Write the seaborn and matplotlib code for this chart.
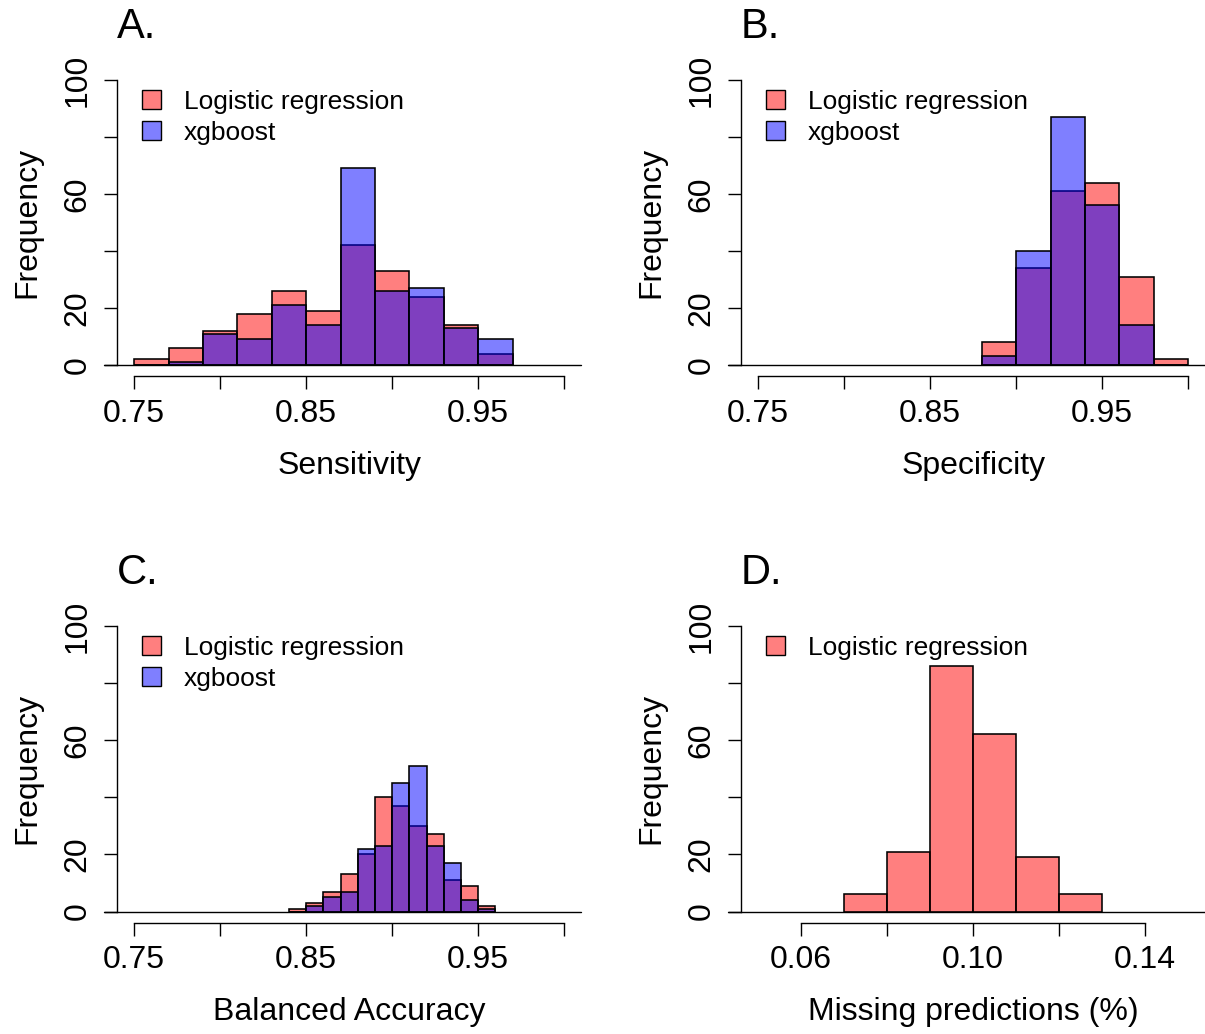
import matplotlib
matplotlib.use("Agg")
import matplotlib.pyplot as plt
import matplotlib.transforms as mtransforms
from matplotlib.patches import Patch
import seaborn as sns

# --- Data (bin edges and counts) ---
sens_edges = [0.75, 0.77, 0.79, 0.81, 0.83, 0.85, 0.87, 0.89, 0.91, 0.93, 0.95, 0.97]
sens_logit = [2, 6, 12, 18, 26, 19, 42, 33, 24, 14, 4]
sens_xgb = [0, 1, 11, 9, 21, 14, 69, 26, 27, 13, 9]

spec_edges = [0.88, 0.90, 0.92, 0.94, 0.96, 0.98, 1.00]
spec_logit = [8, 34, 61, 64, 31, 2]
spec_xgb = [3, 40, 87, 56, 14, 0]

bacc_edges = [0.84, 0.85, 0.86, 0.87, 0.88, 0.89, 0.90, 0.91, 0.92, 0.93, 0.94, 0.95, 0.96]
bacc_logit = [1, 3, 7, 13, 20, 40, 37, 30, 27, 11, 9, 2]
bacc_xgb = [0, 2, 5, 7, 22, 23, 45, 51, 23, 17, 4, 1]

miss_edges = [0.07, 0.08, 0.09, 0.10, 0.11, 0.12, 0.13]
miss_logit = [6, 21, 86, 62, 19, 6]

acc_ticks = [0.75, 0.80, 0.85, 0.90, 0.95, 1.00]
acc_ticklabels = ["0.75", "", "0.85", "", "0.95", ""]
miss_ticks = [0.06, 0.08, 0.10, 0.12, 0.14]
miss_ticklabels = ["0.06", "", "0.10", "", "0.14"]
freq_ticks = [0, 20, 40, 60, 80, 100]
freq_ticklabels = ["0", "20", "", "60", "", "100"]

RED = (1, 0, 0, 0.5)
BLUE = (0, 0, 1, 0.5)
LABELS = {"logit": "Logistic regression", "xgb": "xgboost"}

sns.set_style("ticks")
plt.rcParams["font.family"] = ["Liberation Sans", "DejaVu Sans"]
for key in ("text.color", "axes.labelcolor", "xtick.color", "ytick.color", "axes.edgecolor"):
    plt.rcParams[key] = "black"


def draw_panel(ax, edges, series, letter, xlabel, xlim, xticks, xticklabels):
    handles = []
    for key, counts, color in series:
        mids = [(a + b) / 2 for a, b in zip(edges[:-1], edges[1:])]
        sns.histplot(x=mids, weights=counts, bins=edges, ax=ax,
                     facecolor=color, edgecolor="black", linewidth=1.15)
        handles.append(Patch(facecolor=color, edgecolor="black", linewidth=1.0,
                             label=LABELS[key]))

    ax.set_xlim(*xlim)
    ax.set_ylim(-4, 104)
    for s in ("top", "right"):
        ax.spines[s].set_visible(False)
    ax.spines["left"].set_bounds(0, 100)
    ax.spines["bottom"].set_bounds(xticks[0], xticks[-1])
    for s in ("left", "bottom"):
        ax.spines[s].set_linewidth(1.0)

    # baseline under the bars
    trans = mtransforms.blended_transform_factory(ax.transAxes, ax.transData)
    ax.plot([-0.027, 1.0], [0, 0], transform=trans, color="black", lw=1.0, clip_on=False)

    ax.set_xticks(xticks)
    ax.set_xticklabels(xticklabels)
    ax.set_yticks(freq_ticks)
    ax.set_yticklabels(freq_ticklabels, rotation=90, va="center")
    ax.tick_params(axis="both", length=9.5, width=1.0, labelsize=23, color="black")
    ax.tick_params(axis="x", pad=6.5)
    ax.tick_params(axis="y", pad=8)

    ax.set_xlabel(xlabel, fontsize=23)
    ax.set_ylabel("Frequency", fontsize=23)
    ax.xaxis.set_label_coords(0.5, -0.241)
    ax.yaxis.set_label_coords(-0.161, 0.5)

    ax.text(0.0, 1.10, letter, transform=ax.transAxes, fontsize=30,
            ha="left", va="baseline")

    ax.legend(handles=handles, loc="upper left", bbox_to_anchor=(0.053, 0.93),
              frameon=False, fontsize=19, borderaxespad=0, borderpad=0,
              handlelength=0.74, handleheight=0.74, handletextpad=0.85,
              labelspacing=0.25)


fig = plt.figure(figsize=(12.05, 10.34), dpi=100)
ax_a = fig.add_axes([0.0971, 0.6360, 0.3854, 0.2977])
ax_b = fig.add_axes([0.6149, 0.6360, 0.3854, 0.2977])
ax_c = fig.add_axes([0.0971, 0.1073, 0.3854, 0.2984])
ax_d = fig.add_axes([0.6149, 0.1073, 0.3854, 0.2984])

draw_panel(ax_a, sens_edges, [("logit", sens_logit, RED), ("xgb", sens_xgb, BLUE)],
           "A.", "Sensitivity", (0.74, 1.01), acc_ticks, acc_ticklabels)
draw_panel(ax_b, spec_edges, [("logit", spec_logit, RED), ("xgb", spec_xgb, BLUE)],
           "B.", "Specificity", (0.74, 1.01), acc_ticks, acc_ticklabels)
draw_panel(ax_c, bacc_edges, [("logit", bacc_logit, RED), ("xgb", bacc_xgb, BLUE)],
           "C.", "Balanced Accuracy", (0.74, 1.01), acc_ticks, acc_ticklabels)
draw_panel(ax_d, miss_edges, [("logit", miss_logit, RED)],
           "D.", "Missing predictions (%)", (0.046, 0.154), miss_ticks, miss_ticklabels)

fig.savefig("out.png", dpi=100)
